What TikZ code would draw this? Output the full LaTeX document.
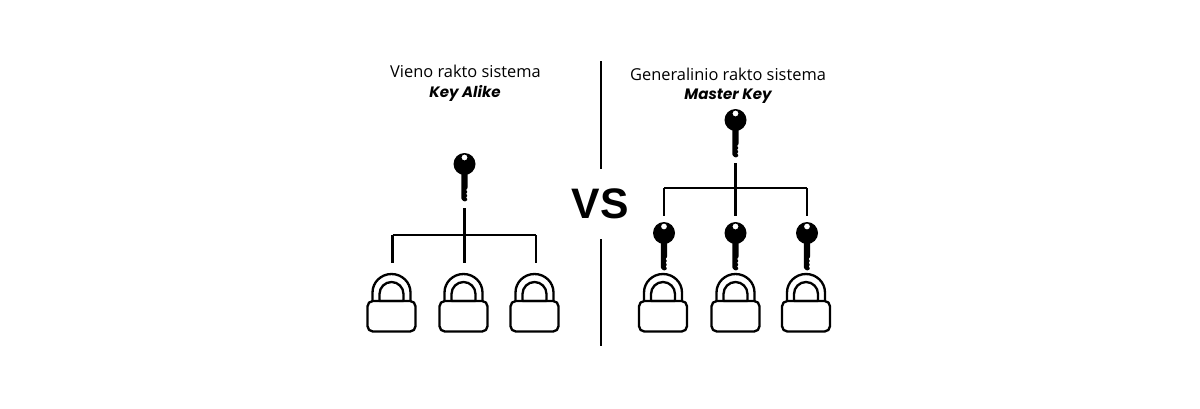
\documentclass[tikz,border=0pt]{standalone}
\usepackage{fontspec}
\setmainfont{Open Sans}
\newfontfamily\titlefont{Open Sans}
\newfontfamily\namefont[BoldItalicFont={Poppins Bold Italic},ItalicFont={Poppins Bold Italic}]{Poppins}
\newfontfamily\vsfont{Liberation Sans}
\tikzset{
  x=0.75pt,y=-0.75pt,
  wire/.style={line width=2.1pt,black,line cap=square},
  divider/.style={line width=1.5pt,black},
  ring/.style={line width=1.75pt,black,line join=round},
  iconbox/.style={inner sep=0pt,outer sep=0pt,minimum width=16.5pt,minimum height=37.5pt},
  lockbox/.style={inner sep=0pt,outer sep=0pt,minimum width=36.75pt,minimum height=44.25pt},
  heading/.style={inner sep=0pt,font=\titlefont\fontsize{12.3pt}{14pt}\selectfont},
  subheading/.style={inner sep=0pt,font=\namefont\itshape\fontsize{11.3pt}{14pt}\selectfont},
}
% #1 name, #2 x, #3 y of the key head centre
\newcommand{\keyicon}[3]{%
  \node[iconbox] (#1) at (#2,#3+13.5) {};
  \begin{scope}[shift={(#2,#3)}]
    \fill[black,even odd rule] (0,0) circle[radius=11] (0,-6.5) circle[radius=3];
    \fill[black,rounded corners=0.6pt] (-3.2,6) -- (-3.2,35) -- (-0.5,37.5) -- (2,37) -- (3.2,35.2) -- (1.4,33.6)
      -- (3.2,31.6) -- (1.4,29.8) -- (3.2,27.8) -- (1.4,26) -- (3.2,24) -- (3.2,6) -- cycle;
  \end{scope}}
% #1 name, #2 x centre
\newcommand{\lockicon}[2]{%
  \node[lockbox] (#1) at (#2,302.5) {};
  \begin{scope}[shift={(#2,0)}]
    \draw[ring] (-19,301) -- (-19,292.5) arc[start angle=180,end angle=0,x radius=19,y radius=-18.5] -- (19,301);
    \draw[ring] (-12,301) -- (-12,294) arc[start angle=180,end angle=0,x radius=12,y radius=-12] -- (12,301) -- cycle;
    \draw[ring,rounded corners=4pt] (-24,301) rectangle (24,331.5);
  \end{scope}}
\begin{document}
\begin{tikzpicture}
\useasboundingbox (0,0) rectangle (1200,408);
% headings
\node[heading] (t1) at (465.5,71.5) {Vieno rakto sistema};
\node[subheading] (s1) at (465,93) {Key Alike};
\node[heading] (t2) at (728,74) {Generalinio rakto sistema};
\node[subheading] (s2) at (728,96) {Master Key};
% VS and dividers
\node[inner sep=0pt,font=\vsfont\bfseries\fontsize{32pt}{36pt}\selectfont] (vs) at (600,204) {VS};
\coordinate (d1a) at (600.5,61); \coordinate (d1b) at (600.5,169);
\coordinate (d2a) at (600.5,239); \coordinate (d2b) at (600.5,346);
\draw[divider] (d1a) -- (d1b);
\draw[divider] (d2a) -- (d2b);
% left tree
\keyicon{ka}{464.5}{164}
\lockicon{la}{391.5}
\lockicon{lb}{463.5}
\lockicon{lc}{534.5}
\coordinate (ka0) at (464.5,208);
\coordinate (hubl) at (464.5,235);
\coordinate (ea) at (392.5,263);
\coordinate (eb) at (464.5,263);
\coordinate (ec) at (536,263);
\coordinate (ca) at (392.5,235);
\coordinate (cc) at (536,235);
\draw[wire] (ka0) -- (eb);
\draw[wire] (ca) -- (cc);
\draw[wire] (ca) -- (ea);
\draw[wire] (cc) -- (ec);
% right tree
\keyicon{kb}{735.5}{120}
\keyicon{kc}{664}{233}
\keyicon{kd}{735.5}{233}
\keyicon{ke}{807}{233}
\lockicon{ld}{663}
\lockicon{le}{735.5}
\lockicon{lf}{806}
\coordinate (kb0) at (735.5,163);
\coordinate (hubr) at (735.5,188);
\coordinate (ed) at (664,216);
\coordinate (ee) at (735.5,216);
\coordinate (ef) at (807,216);
\coordinate (cd) at (664,188);
\coordinate (cf) at (807,188);
\draw[wire] (kb0) -- (ee);
\draw[wire] (cd) -- (cf);
\draw[wire] (cd) -- (ed);
\draw[wire] (cf) -- (ef);
\end{tikzpicture}
\end{document}
